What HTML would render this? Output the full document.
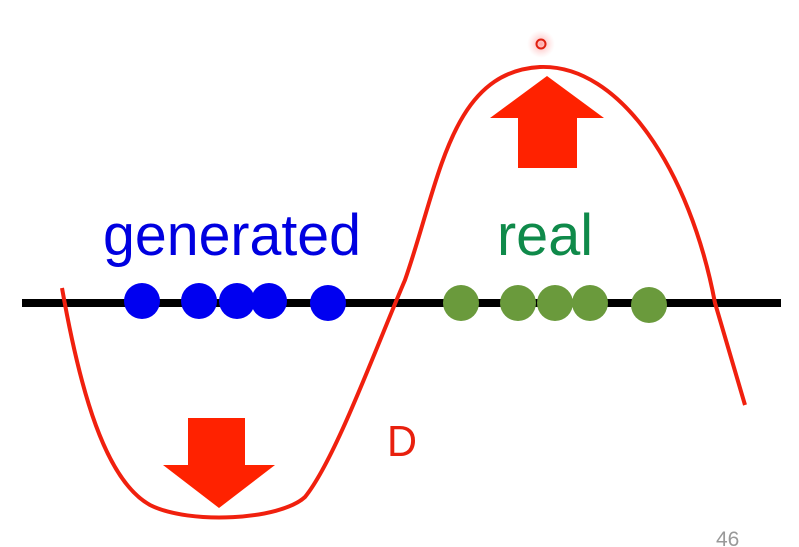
<!DOCTYPE html>
<html><head><style>body{margin:0;background:#fff;}svg{display:block}</style></head>
<body>
<svg width="799" height="547" viewBox="0 0 799 547" xmlns="http://www.w3.org/2000/svg">
<rect width="799" height="547" fill="#fff"/>
<defs><radialGradient id="g"><stop offset="0" stop-color="#ff9a9a" stop-opacity="0.9"/><stop offset="1" stop-color="#ffd0d0" stop-opacity="0"/></radialGradient></defs>
<line x1="22" y1="303" x2="781" y2="303" stroke="#000" stroke-width="8"/>
<g fill="#0000f0">
<circle cx="142" cy="301" r="18"/><circle cx="199" cy="301" r="18"/><circle cx="237" cy="301" r="18"/><circle cx="269" cy="301" r="18"/><circle cx="328" cy="303" r="18"/>
</g>
<g fill="#6a9a3c">
<circle cx="461" cy="303" r="18"/><circle cx="518" cy="303" r="18"/><circle cx="555" cy="303" r="18"/><circle cx="590" cy="303" r="18"/><circle cx="649" cy="305" r="18"/>
</g>
<text x="103" y="255" font-family="Liberation Sans, sans-serif" font-size="58" fill="#0000e0" textLength="258" lengthAdjust="spacingAndGlyphs">generated</text>
<text x="497" y="255" font-family="Liberation Sans, sans-serif" font-size="58" fill="#0f8a4a" textLength="96" lengthAdjust="spacingAndGlyphs">real</text>
<path d="M62,288 C80,390 105,480 150,505 C190,525 280,520 305,497 C335,460 375,350 405,280 C440,180 450,72 540,67 C620,64 690,170 715,303 L745,405" fill="none" stroke="#f0200e" stroke-width="4"/>
<polygon points="188,418 245,418 245,465 275,465 219,508 163,465 188,465" fill="#ff2200"/>
<polygon points="547,76 604,118 577,118 577,168 518,168 518,118 490,118" fill="#ff2200"/>
<circle cx="541" cy="44" r="14" fill="url(#g)"/>
<circle cx="541" cy="44" r="4.5" fill="none" stroke="#e02010" stroke-width="2"/>
<text x="387" y="456" font-family="Liberation Sans, sans-serif" font-size="44" fill="#e8200e" textLength="30" lengthAdjust="spacingAndGlyphs">D</text>
<text x="716" y="546" font-family="Liberation Sans, sans-serif" font-size="21" fill="#999">46</text>
</svg>
</body></html>
